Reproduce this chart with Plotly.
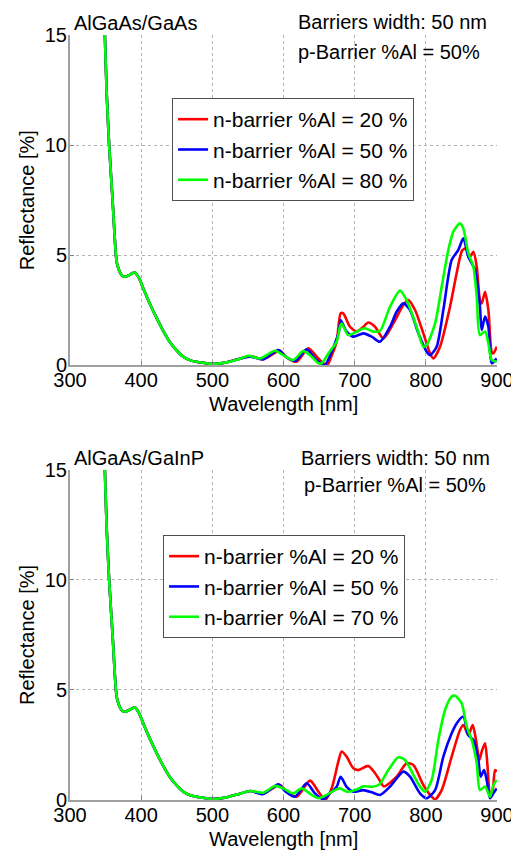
import plotly.graph_objects as go

# ---------------- data ----------------
# shared short-wavelength part (all curves coincide there)
wl_short = [340, 345, 349, 351.5, 355, 360, 364.5, 366.5, 372.5, 377, 384, 391, 397, 403,
            412, 422, 431, 440, 450, 459, 470, 483, 500, 520]
r_short = [24, 19, 15, 12.4, 10, 7.4, 5.0, 4.55, 4.09, 4.01, 4.1, 4.21, 3.95, 3.48,
           2.8, 2.12, 1.55, 1.06, 0.66, 0.38, 0.2, 0.12, 0.05, 0.12]

# --- top panel: AlGaAs/GaAs ---
top_wl_20 = [540, 553, 571.6, 595, 604.4, 618.5, 634.9, 646.6, 656, 661.6, 668, 674.7, 680.3, 684,
             693.4, 702.8, 711, 719.2, 728.6, 740.3, 754.3, 768.4, 775.4, 784.8, 796.5, 805.9,
             810.6, 819.9, 834, 843.3, 851, 856, 862, 866.8, 871.5, 876, 878.5, 883.2, 887.9,
             892.5, 894.9, 899.6]
top_r_20 = [0.3, 0.41, 0.26, 0.65, 0.35, 0.15, 0.76, 0.38, 0.08, 0.0, 0.45, 1.06, 2.35, 2.35,
            1.74, 1.52, 1.7, 1.93, 1.74, 1.21, 1.89, 2.73, 2.95, 2.5, 1.44, 0.53,
            0.3, 0.83, 2.65, 4.17, 5.2, 5.3, 4.92, 5.15, 4.47, 2.95, 2.8, 3.33, 2.5,
            0.6, 0.53, 0.83]

top_wl_50 = [540, 553, 571.6, 592.7, 602, 616, 632.5, 644.2, 653.6, 658.3, 672.3, 678.4, 680.3,
             688.7, 698.1, 712.2, 723.9, 735.6, 749.7, 759, 768.4, 777.8, 789.5, 801.2, 805.9,
             815.2, 824.6, 836.3, 845.7, 852.7, 859.7, 869.1, 876, 878.5, 883.2, 887.9, 892.5,
             899.6]
top_r_50 = [0.3, 0.38, 0.26, 0.68, 0.41, 0.18, 0.71, 0.3, 0.05, 0.0, 0.98, 1.59, 2.05,
            1.52, 1.29, 1.44, 1.29, 1.06, 1.74, 2.42, 2.8, 2.5, 1.44, 0.6, 0.45,
            0.83, 2.5, 4.77, 5.23, 5.76, 4.92, 4.32, 2.65, 1.59, 2.2, 1.74, 0.08,
            0.3]

top_wl_80 = [540, 550.6, 567, 588, 599.7, 613.8, 627.8, 639.6, 649, 653.6, 665.3, 674.7, 679.4,
             681.7, 691, 702.8, 714.5, 726.2, 735.6, 749.7, 763.7, 773, 787, 796.5, 801.2, 813,
             822.3, 831.6, 838.7, 848, 852.7, 859.7, 866.8, 871.5, 876, 883.2, 887.9, 892.5,
             899.6]
top_r_80 = [0.3, 0.42, 0.3, 0.65, 0.45, 0.23, 0.63, 0.38, 0.08, 0.08, 0.63, 1.06, 1.74,
            1.89, 1.36, 1.52, 1.67, 1.52, 1.55, 2.65, 3.38, 2.95, 1.74, 0.83, 0.91, 1.89,
            3.56, 5.23, 6.06, 6.44, 6.21, 5.08, 4.47, 3.1, 1.36, 1.52, 0.98, 0.23,
            0.15]

# --- bottom panel: AlGaAs/GaInP ---
bot_wl_20 = [540, 553, 571.6, 595, 604.4, 618.5, 637.2, 649, 658.3, 667.7, 677, 681.7, 688.7,
             698.1, 705.1, 719.2, 728, 735, 741, 759, 773, 782.5, 796.5, 808.2, 813, 822.3,
             836.3, 848, 852.7, 859.7, 865.8, 870.5, 875.2, 878.5, 883.2, 886.4, 890.2, 894,
             897.2, 900]
bot_r_20 = [0.3, 0.41, 0.3, 0.68, 0.38, 0.15, 0.88, 0.38, 0.0, 0.53, 1.74, 2.2, 1.97,
            1.44, 1.36, 1.55, 1.25, 0.9, 0.62, 1.06, 1.67, 1.59, 0.68, 0.15, 0.03, 0.45,
            1.97, 3.18, 3.41, 2.95, 3.41, 2.73, 1.82, 2.2, 2.58, 1.67, 0.23, 0.45,
            1.36, 1.29]

bot_wl_50 = [540, 553, 571.6, 592.7, 602, 616, 632.5, 644.2, 656, 665.3, 674.7, 680.3, 688.7,
             698.1, 712.2, 723.9, 735.6, 749.7, 768.4, 777.8, 791.8, 801.2, 813, 824.6, 836.3,
             843.3, 852.7, 859.7, 866.8, 873.8, 877, 881.8, 885.5, 890.2, 894.9, 899.6]
bot_r_50 = [0.3, 0.41, 0.27, 0.71, 0.41, 0.15, 0.76, 0.3, 0.03, 0.3, 0.6, 1.06, 0.6,
            0.38, 0.45, 0.35, 0.23, 0.61, 1.29, 1.06, 0.3, 0.08, 0.45, 1.97, 3.03,
            3.48, 3.79, 2.95, 2.73, 1.82, 1.06, 1.36, 0.91, 0.08, 0.3, 0.53]

bot_wl_70 = [540, 552.9, 571.6, 588, 599.7, 613.8, 625.5, 639.6, 649, 660.6, 672.3, 679.4, 688.7,
             702.8, 712, 725, 735, 747.3, 761.4, 770.7, 782.5, 791.8, 798.9, 808.2, 817.6, 827,
             836.3, 841, 850.4, 857.4, 864.4, 871.5, 876, 883.2, 890.2, 894.9, 899.6]
bot_r_70 = [0.3, 0.41, 0.33, 0.64, 0.53, 0.3, 0.53, 0.23, 0.08, 0.23, 0.45, 0.53, 0.38,
            0.48, 0.62, 0.6, 0.72, 1.36, 1.94, 1.82, 1.14, 0.61, 0.38, 0.91, 2.73, 4.09,
            4.7, 4.74, 4.39, 3.33, 2.73, 1.67, 0.45, 0.61, 0.15, 0.68, 0.91]

top_names = ["n-barrier %Al = 20 %", "n-barrier %Al = 50 %", "n-barrier %Al = 80 %"]
bot_names = ["n-barrier %Al = 20 %", "n-barrier %Al = 50 %", "n-barrier %Al = 70 %"]
colors = ["#ff0000", "#0000ff", "#00ff00"]

x_ticks = [300, 400, 500, 600, 700, 800, 900]
y_ticks = [0, 5, 10, 15]

# ---------------- figure ----------------
FONT = "Arial, Liberation Sans, sans-serif"
fig = go.Figure()

top_sets = [(top_wl_20, top_r_20), (top_wl_50, top_r_50), (top_wl_80, top_r_80)]
bot_sets = [(bot_wl_20, bot_r_20), (bot_wl_50, bot_r_50), (bot_wl_70, bot_r_70)]

for (wl, r), name, c in zip(top_sets, top_names, colors):
    fig.add_trace(go.Scatter(x=wl_short + wl, y=r_short + r, mode="lines", name=name,
                             line=dict(color=c, width=2.6, shape="spline", smoothing=0.7),
                             xaxis="x", yaxis="y", legend="legend"))
for (wl, r), name, c in zip(bot_sets, bot_names, colors):
    fig.add_trace(go.Scatter(x=wl_short + wl, y=r_short + r, mode="lines", name=name,
                             line=dict(color=c, width=2.6, shape="spline", smoothing=0.7),
                             xaxis="x2", yaxis="y2", legend="legend2"))

axis_common = dict(showline=True, linecolor="#a0a0a0", linewidth=2,
                   showgrid=True, gridcolor="#b4b4b4", griddash="dot", gridwidth=1,
                   ticks="inside", ticklen=4, tickcolor="#808080", zeroline=False,
                   automargin=False,
                   tickfont=dict(family=FONT, size=20, color="black"))

xa = dict(axis_common, range=[300, 900], tickvals=x_ticks, ticklabelstandoff=-4)
ya = dict(axis_common, range=[0, 15], tickvals=y_ticks, ticklabelstandoff=-3)

# page body has an 8px margin: figure drawn at (8, 8) in the screenshot
fig.update_layout(
    width=511, height=844,
    margin=dict(l=62, r=22, t=27, b=52, autoexpand=False),
    paper_bgcolor="white", plot_bgcolor="white",
    font=dict(family=FONT, size=20, color="black"),
    xaxis=dict(xa, domain=[0, 1], anchor="y"),
    yaxis=dict(ya, domain=[0.5686, 1], anchor="x"),
    xaxis2=dict(xa, domain=[0, 1], anchor="y2"),
    yaxis2=dict(ya, domain=[0, 0.4314], anchor="x2"),
    legend=dict(x=0.239, y=0.9176, xanchor="left", yanchor="top",
                bgcolor="white", bordercolor="#505050", borderwidth=1,
                font=dict(family=FONT, size=21, color="black"), tracegroupgap=0),
    legend2=dict(x=0.218, y=0.3464, xanchor="left", yanchor="top",
                 bgcolor="white", bordercolor="#505050", borderwidth=1,
                 font=dict(family=FONT, size=21, color="black"), tracegroupgap=0),
    showlegend=True,
)

def ann(text, x, y, xanchor, angle=0):
    fig.add_annotation(text=text, x=x, y=y, xref="paper", yref="paper",
                       xanchor=xanchor, yanchor="middle", showarrow=False, textangle=angle,
                       font=dict(family=FONT, size=20, color="black"))

ann("AlGaAs/GaAs", 0.0047, 1.0157, "left")
ann("Barriers width: 50 nm", 0.981, 1.017, "right")
ann("p-Barrier %Al = 50%", 0.965, 0.9778, "right")
ann("AlGaAs/GaInP", 0.0047, 0.447, "left")
ann("Barriers width: 50 nm", 0.988, 0.447, "right")
ann("p-Barrier %Al = 50%", 0.979, 0.4118, "right")

# axis titles
ann("Wavelength [nm]", 0.5, 0.5176, "center")
ann("Wavelength [nm]", 0.5, -0.051, "center")
ann("Reflectance [%]", -0.1007, 0.784, "center", -90)
ann("Reflectance [%]", -0.1007, 0.2157, "center", -90)

fig.write_html("out.html")
